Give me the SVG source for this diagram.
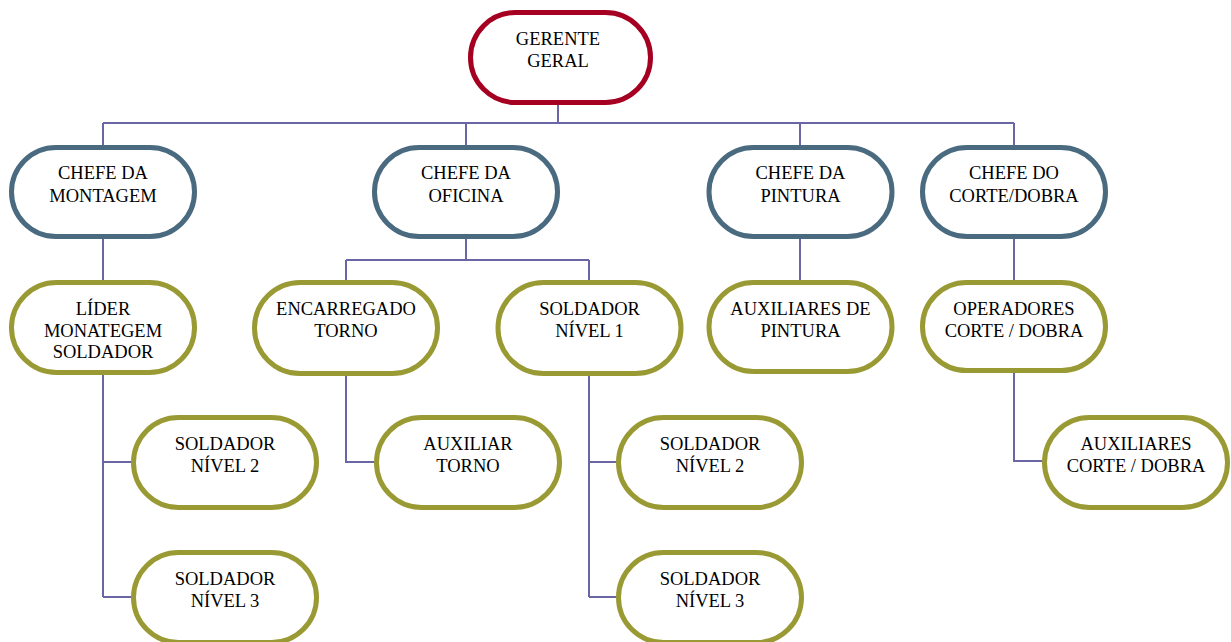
<svg xmlns="http://www.w3.org/2000/svg" width="1231" height="642" viewBox="0 0 1231 642">
  <style>
    .box { fill: #ffffff; stroke-width: 5; }
    .top { stroke: #A50021; }
    .chief { stroke: #4A6A80; }
    .staff { stroke: #9A9A35; }
    .lbl { font-family: "Liberation Serif", "Times New Roman", serif; font-size: 18.5px; fill: #000000; text-anchor: middle; }
    .links { fill: none; stroke: #6A66A6; stroke-width: 2; }
  </style>
  <rect width="1231" height="642" fill="#ffffff"/>

  <!-- connectors -->
  <g id="connectors" class="links">
    <path d="M558 105 V123 M103 123 H1014 M103 123 V145 M466 123 V145 M800 123 V145 M1014 123 V145"/>
    <path d="M103 239 V280 M800 239 V280 M1014 239 V280"/>
    <path d="M466 239 V260 M346 260 H589 M346 260 V280 M589 260 V280"/>
    <path d="M103 375 V597 M103 462 H131 M103 597 H131"/>
    <path d="M346 376 V462 H375"/>
    <path d="M589 376 V597 M589 462 H617 M589 597 H617"/>
    <path d="M1014 373 V461 H1042"/>
  </g>

  <!-- top level -->
  <g id="gerente-geral">
    <rect class="box top" x="470.5" y="12.5" width="180" height="90" rx="45"/>
    <text class="lbl" x="558" y="45">GERENTE</text>
    <text class="lbl" x="558" y="67">GERAL</text>
  </g>

  <!-- department heads -->
  <g id="chefe-montagem">
    <rect class="box chief" x="11.5" y="147.5" width="183" height="89" rx="44.5"/>
    <text class="lbl" x="103" y="179">CHEFE DA</text>
    <text class="lbl" x="103" y="202">MONTAGEM</text>
  </g>
  <g id="chefe-oficina">
    <rect class="box chief" x="374.5" y="147.5" width="183" height="89" rx="44.5"/>
    <text class="lbl" x="466" y="179">CHEFE DA</text>
    <text class="lbl" x="466" y="202">OFICINA</text>
  </g>
  <g id="chefe-pintura">
    <rect class="box chief" x="709" y="147.5" width="183" height="89" rx="44.5"/>
    <text class="lbl" x="800.5" y="179">CHEFE DA</text>
    <text class="lbl" x="800.5" y="202">PINTURA</text>
  </g>
  <g id="chefe-corte-dobra">
    <rect class="box chief" x="922.5" y="147.5" width="183" height="89" rx="44.5"/>
    <text class="lbl" x="1014" y="179">CHEFE DO</text>
    <text class="lbl" x="1014" y="202">CORTE/DOBRA</text>
  </g>

  <!-- second level -->
  <g id="lider-montagem">
    <rect class="box staff" x="11.5" y="282.5" width="183" height="90" rx="45"/>
    <text class="lbl" x="103" y="315">LÍDER</text>
    <text class="lbl" x="103" y="336.5">MONATEGEM</text>
    <text class="lbl" x="103" y="358">SOLDADOR</text>
  </g>
  <g id="encarregado-torno">
    <rect class="box staff" x="254.5" y="282.5" width="183" height="91" rx="45.5"/>
    <text class="lbl" x="346" y="315">ENCARREGADO</text>
    <text class="lbl" x="346" y="337">TORNO</text>
  </g>
  <g id="soldador-nivel-1">
    <rect class="box staff" x="498" y="282.5" width="183" height="91" rx="45.5"/>
    <text class="lbl" x="589.5" y="315">SOLDADOR</text>
    <text class="lbl" x="589.5" y="337">NÍVEL 1</text>
  </g>
  <g id="auxiliares-pintura">
    <rect class="box staff" x="709" y="282.5" width="183" height="89" rx="44.5"/>
    <text class="lbl" x="800.5" y="315">AUXILIARES DE</text>
    <text class="lbl" x="800.5" y="337">PINTURA</text>
  </g>
  <g id="operadores-corte-dobra">
    <rect class="box staff" x="922.5" y="282.5" width="183" height="88" rx="44"/>
    <text class="lbl" x="1014" y="315">OPERADORES</text>
    <text class="lbl" x="1014" y="337">CORTE / DOBRA</text>
  </g>

  <!-- third level -->
  <g id="soldador-nivel-2-a">
    <rect class="box staff" x="133.5" y="417.5" width="183" height="90" rx="45"/>
    <text class="lbl" x="225" y="450">SOLDADOR</text>
    <text class="lbl" x="225" y="472">NÍVEL 2</text>
  </g>
  <g id="auxiliar-torno">
    <rect class="box staff" x="376.5" y="417.5" width="183" height="90" rx="45"/>
    <text class="lbl" x="468" y="450">AUXILIAR</text>
    <text class="lbl" x="468" y="472">TORNO</text>
  </g>
  <g id="soldador-nivel-2-b">
    <rect class="box staff" x="618.5" y="417.5" width="183" height="90" rx="45"/>
    <text class="lbl" x="710" y="450">SOLDADOR</text>
    <text class="lbl" x="710" y="472">NÍVEL 2</text>
  </g>
  <g id="auxiliares-corte-dobra">
    <rect class="box staff" x="1044.5" y="417.5" width="183" height="90" rx="45"/>
    <text class="lbl" x="1136" y="450">AUXILIARES</text>
    <text class="lbl" x="1136" y="472">CORTE / DOBRA</text>
  </g>

  <!-- fourth level -->
  <g id="soldador-nivel-3-a">
    <rect class="box staff" x="133.5" y="552.5" width="183" height="90" rx="45"/>
    <text class="lbl" x="225" y="585">SOLDADOR</text>
    <text class="lbl" x="225" y="607">NÍVEL 3</text>
  </g>
  <g id="soldador-nivel-3-b">
    <rect class="box staff" x="618.5" y="552.5" width="183" height="90" rx="45"/>
    <text class="lbl" x="710" y="585">SOLDADOR</text>
    <text class="lbl" x="710" y="607">NÍVEL 3</text>
  </g>
</svg>
